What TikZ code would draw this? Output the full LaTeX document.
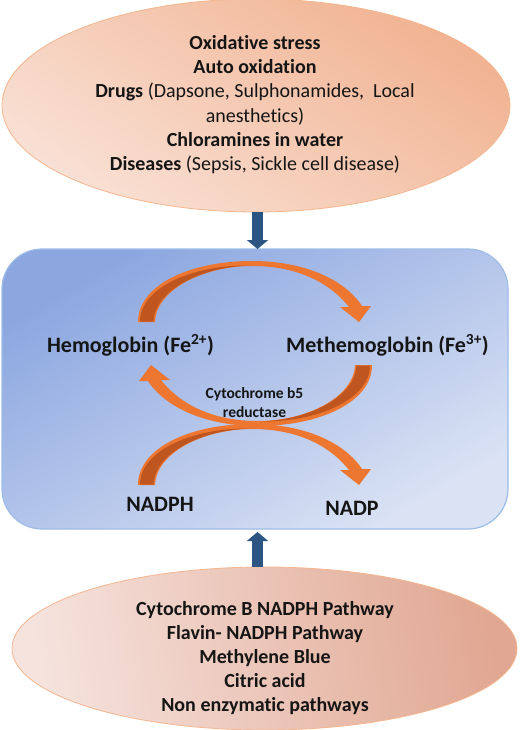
\documentclass[tikz,border=0pt]{standalone}
\usepackage{fontspec}
\setmainfont{Carlito}[Ligatures=NoCommon]
\usetikzlibrary{shapes.geometric,arrows.meta}
\definecolor{topA}{HTML}{F1B392}
\definecolor{topB}{HTML}{F9E0D4}
\definecolor{botA}{HTML}{E1A792}
\definecolor{botB}{HTML}{F6E3DE}
\definecolor{ellborder}{HTML}{F4B68E}
\definecolor{blueA}{HTML}{8CA7E0}
\definecolor{blueB}{HTML}{DAE2F4}
\definecolor{boxborder}{HTML}{9DBDE8}
\definecolor{arrblue}{HTML}{2C5584}
\definecolor{arclight}{HTML}{ED7630}
\definecolor{arcdark}{HTML}{BF5620}
\definecolor{ink}{HTML}{151515}
\newcommand\orangearrowshape{%
  \fill[arclight] (138,322) .. controls (138,285) and (190,261) .. (252,261)
    .. controls (305,261) and (345,280) .. (362,306)
    -- (371,306) -- (359,322) -- (340,307) -- (349,307)
    .. controls (330,283) and (298,266) .. (252,266)
    .. controls (203,266) and (156,290) .. (155,322) -- cycle;
  \fill[arcdark] (140,321.5) .. controls (140,288) and (192,264.5) .. (250,265.6)
    .. controls (202,266.6) and (154.6,290) .. (153.6,321.5) -- cycle;
}
\begin{document}
\begin{tikzpicture}[x=1pt,y=-1pt,
  txt/.style={font=\fontsize{20}{24.3}\selectfont, text=ink, inner sep=0pt, align=center},
  lbl/.style={font=\bfseries\fontsize{22}{26}\selectfont, text=ink, inner sep=0pt},
  small/.style={font=\bfseries\fontsize{15.5}{19}\selectfont, text=ink, inner sep=0pt, align=center},
  bluearrow/.style={draw=arrblue, line width=10.5pt, -{Triangle[width=21pt,length=9pt]}},
  oval/.style={ellipse, inner sep=0pt, draw=ellborder, line width=0.8pt}
]
\useasboundingbox[fill=white] (0,0) rectangle (522,730);
% top ellipse
\node[oval, minimum width=508pt, minimum height=213pt,
      top color=topA, bottom color=topB, shading angle=-35] (causes) at (256,105.5) {};
% bottom ellipse
\node[oval, minimum width=505pt, minimum height=163pt,
      top color=botA, bottom color=botB, shading angle=-80] (remedies) at (264.5,648.5) {};
% central box
\node[rectangle, rounded corners=40pt, minimum width=506pt, minimum height=280pt,
      draw=boxborder, line width=1.2pt, top color=blueA, bottom color=blueB,
      shading angle=30] (rxbox) at (255,389) {};
% blue arrows
\coordinate (downtip) at (257.5,249);
\coordinate (uptip) at (257.5,532);
\draw[bluearrow] (causes.south -| downtip) -- (downtip);
\draw[bluearrow] (remedies.north -| uptip) -- (uptip);
% orange curved arrows
\orangearrowshape
\begin{scope}[rotate around={180:(255,343.5)}]
  \orangearrowshape
\end{scope}
\begin{scope}[shift={(0,163)}]
  \orangearrowshape
\end{scope}
% texts
\node[txt] (causestext) at (255,104.5) {\textbf{Oxidative stress}\\
  \textbf{Auto oxidation}\\
  \textbf{Drugs} (Dapsone, Sulphonamides,\ \ Local\\
  anesthetics)\\
  \textbf{Chloramines in water}\\
  \textbf{Diseases} (Sepsis, Sickle cell disease)};
\node[txt, font=\bfseries\fontsize{20}{24.0}\selectfont] (remediestext) at (265,658.5) {Cytochrome B NADPH\ Pathway\\
  Flavin- NADPH\ Pathway\\
  Methylene Blue\\
  Citric acid\\
  Non enzymatic pathways};
\node[lbl, anchor=base] (hb) at (130.5,352) {Hemoglobin (Fe\textsuperscript{2+})};
\node[lbl, anchor=base] (methb) at (387.5,352) {Methemoglobin (Fe\textsuperscript{3+})};
\node[small] (enzyme) at (254.5,402.8) {Cytochrome b5\\reductase};
\node[lbl, anchor=base] (nadph) at (160,511) {NADPH};
\node[lbl, anchor=base] (nadp) at (352,515) {NADP};
\end{tikzpicture}
\end{document}
